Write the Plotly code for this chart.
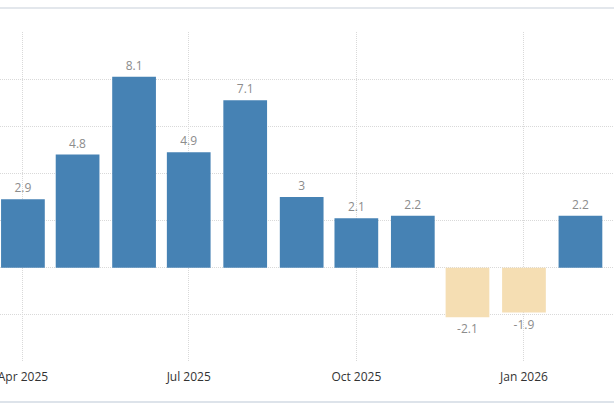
import plotly.graph_objects as go

months = ["2025-04-01", "2025-05-01", "2025-06-01", "2025-07-01", "2025-08-01", "2025-09-01",
          "2025-10-01", "2025-11-01", "2025-12-01", "2026-01-01", "2026-02-01"]
values = [2.9, 4.8, 8.1, 4.9, 7.1, 3, 2.1, 2.2, -2.1, -1.9, 2.2]

pos_color = "#4682b4"
neg_color = "#f5deb3"
colors = [pos_color if v >= 0 else neg_color for v in values]

fig = go.Figure(go.Bar(
    x=months,
    y=values,
    width=24 * 86400000,
    marker=dict(color=colors, line=dict(width=0)),
    text=[str(v) for v in values],
    textposition="outside",
    textfont=dict(family="Open Sans", size=12, color="#8c8c8c"),
    cliponaxis=False,
))

fig.update_layout(
    width=614,
    height=409,
    margin=dict(l=0, r=0, t=32, b=47),
    plot_bgcolor="white",
    paper_bgcolor="white",
    showlegend=False,
    xaxis=dict(
        type="date",
        range=["2025-03-19 10:00", "2026-02-19 10:00"],
        tick0="2025-01-01",
        dtick="M3",
        tickformat="%b %Y",
        ticklabelmode="instant",
        ticklabeloverflow="allow",
        ticklabelstandoff=6,
        automargin=False,
        showgrid=True,
        gridcolor="#d9d9d9",
        griddash="1px,1px",
        zeroline=False,
        showline=False,
        ticks="",
        tickfont=dict(family="Open Sans", size=12, color="#333333"),
    ),
    yaxis=dict(
        range=[-4, 10],
        dtick=2,
        showgrid=True,
        gridcolor="#d9d9d9",
        griddash="1px,1px",
        zeroline=False,
        showticklabels=False,
        ticks="",
        automargin=False,
    ),
    shapes=[
        dict(type="line", xref="paper", yref="paper", x0=0, x1=1,
             y0=1 + 24 / 330, y1=1 + 24 / 330, line=dict(color="#e3e7ec", width=2)),
        dict(type="line", xref="paper", yref="paper", x0=0, x1=1,
             y0=-40 / 330, y1=-40 / 330, line=dict(color="#dde3ea", width=2)),
    ],
)

# drop the default 8px body margin so the chart fills the window
fig.write_html("out.html", config={"displayModeBar": False},
               post_script="document.body.style.margin='0';")
